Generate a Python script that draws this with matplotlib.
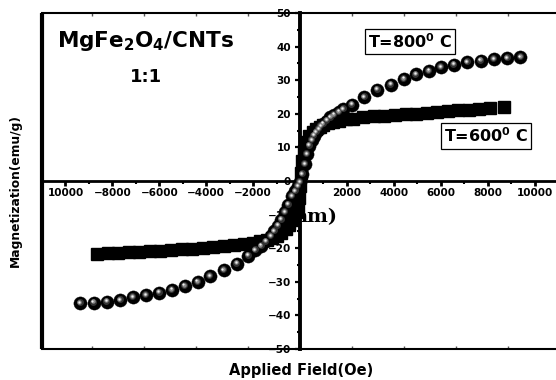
import matplotlib
matplotlib.use('Agg')
import matplotlib.pyplot as plt
from matplotlib.transforms import offset_copy
from matplotlib.ticker import MultipleLocator, FixedLocator

# ---------------- data ----------------
field_800 = [-9360, -8800, -8230, -7660, -7120, -6570, -6000, -5460, -4920, -4370,
             -3830, -3260, -2700, -2200, -1900, -1650, -1450, -1250, -1100, -950,
             -800, -650, -500, -350, -200, -100, 0, 100, 200, 300, 400, 500, 600,
             700, 800, 900, 1000, 1150, 1300, 1450, 1650, 1850, 2213, 2740, 3300,
             3870, 4440, 4940, 5500, 6000, 6570, 7140, 7700, 8270, 8840, 9400]
mag_800 = [-36.4, -36.2, -35.9, -35.4, -34.6, -33.9, -33.2, -32.4, -31.2, -30.0,
           -28.4, -26.6, -24.6, -22.2, -20.6, -19.3, -18.0, -16.5, -15.0, -13.3,
           -11.5, -9.3, -7.0, -4.6, -3.0, -1.5, -0.3, 2.0, 5.0, 8.0, 10.5, 12.2, 13.5,
           14.6, 15.5, 16.3, 17.0, 18.0, 18.9, 19.7, 20.6, 21.4, 22.7, 24.9, 27.2,
           28.7, 30.4, 31.7, 32.8, 33.8, 34.6, 35.3, 35.8, 36.3, 36.6, 36.9]

field_600 = [-8650, -8200, -7750, -7300, -6850, -6400, -5950, -5500, -5050, -4600,
             -4150, -3700, -3250, -2800, -2400, -2000, -1700, -1400, -1200, -1000,
             -800, -600, -450, -300, -150, -100, -50, 0, 50, 100, 150, 250, 400, 550,
             700, 850, 1000, 1200, 1400, 1650, 1950, 2250, 2700, 3150, 3600, 4050,
             4500, 4950, 5400, 5850, 6300, 6750, 7200, 7650, 8100, 8700]
mag_600 = [-21.6, -21.5, -21.3, -21.2, -21.0, -20.9, -20.7, -20.5, -20.3, -20.1,
           -19.9, -19.6, -19.4, -19.1, -18.8, -18.4, -18.0, -17.5, -17.1, -16.5,
           -15.6, -14.3, -13.0, -11.5, -9.3, -7.5, -5.0, -1.5, 2.5, 6.0, 9.0, 11.5, 13.3, 14.5,
           15.4, 16.1, 16.7, 17.2, 17.6, 18.0, 18.4, 18.6, 18.9, 19.2, 19.4, 19.6,
           19.8, 20.0, 20.3, 20.5, 20.7, 21.0, 21.2, 21.4, 21.6, 21.9]

x_ticks = [-10000, -8000, -6000, -4000, -2000, 2000, 4000, 6000, 8000, 10000]
x_tick_labels = ['10000', '\u22128000', '\u22126000', '\u22124000', '\u22122000',
                 '2000', '4000', '6000', '8000', '10000']
y_ticks = [-50, -40, -30, -20, -10, 0, 10, 20, 30, 40, 50]
y_tick_labels = ['\u221250', '\u221240', '\u221230', '\u221220', '\u221210', '0',
                 '10', '20', '30', '40', '50']

label_800 = 'T=800$^0$ C'
label_600 = 'T=600$^0$ C'
sample_title = 'MgFe$_2$O$_4$/CNTs'
sample_ratio = '1:1'

# ---------------- style ----------------
plt.rcParams['font.family'] = ['DejaVu Sans']
plt.rcParams['font.weight'] = 'bold'
plt.rcParams['mathtext.fontset'] = 'dejavusans'
plt.rcParams['mathtext.default'] = 'bf'

fig = plt.figure(figsize=(5.56, 3.80), dpi=100)
ax = fig.add_axes([42 / 556, 31 / 380, 516 / 556, 336 / 380])
ax.set_xlim(-11000, 11000)
ax.set_ylim(-50, 50)

ax.spines['left'].set_position(('data', 0))
ax.spines['bottom'].set_position(('data', 0))
ax.spines['right'].set_visible(False)
ax.spines['left'].set_linewidth(2.8)
ax.spines['bottom'].set_linewidth(2.0)
ax.spines['top'].set_linewidth(1.5)

# outer frame lines
ax.plot([0, 0], [0, 1], transform=ax.transAxes, color='black', lw=3.0,
        clip_on=False, zorder=3, solid_capstyle='butt')
ax.plot([0, 1], [0, 0], transform=ax.transAxes, color='black', lw=1.5,
        clip_on=False, zorder=3)

ax.xaxis.set_ticks_position('bottom')
ax.yaxis.set_ticks_position('left')
ax.xaxis.set_major_locator(FixedLocator(x_ticks))
ax.set_xticklabels(x_tick_labels)
ax.xaxis.set_minor_locator(MultipleLocator(1000))
ax.yaxis.set_major_locator(FixedLocator(y_ticks))
ax.set_yticklabels(y_tick_labels)
ax.yaxis.set_minor_locator(MultipleLocator(5))

ax.tick_params(axis='x', which='major', direction='out', length=3.8, width=2.0,
               pad=1.0, labelsize=7.5)
ax.tick_params(axis='x', which='minor', direction='out', length=2.2, width=1.5)
ax.tick_params(axis='y', which='major', direction='out', length=3.6, width=1.6,
               pad=3.0, labelsize=7.5)
ax.tick_params(axis='y', which='minor', direction='out', length=2.0, width=1.5)

# faint ticks on outer frame
for loc in ('top', 0.0):
    sec = ax.secondary_xaxis(loc, functions=(lambda v: v * 0.9, lambda v: v / 0.9))
    sec.xaxis.set_major_locator(MultipleLocator(2000))
    sec.tick_params(direction='in', length=2.0, width=1.0, colors='#555555',
                    labelbottom=False, labeltop=False)
    for s in sec.spines.values():
        s.set_visible(False)

# ---------------- data marks ----------------
ax.plot(field_600, mag_600, 's', ms=8, color='black', zorder=4)

ax.plot(field_800, mag_800, 'o', ms=9.5, mfc='black', mec='black', mew=0.3, zorder=5)
t1 = offset_copy(ax.transData, fig=fig, x=-0.5, y=0.7, units='points')
ax.plot(field_800, mag_800, 'o', ms=5.0, mfc='#333333', mec='none', transform=t1, zorder=6)
t2 = offset_copy(ax.transData, fig=fig, x=-0.7, y=0.9, units='points')
ax.plot(field_800, mag_800, 'o', ms=3.2, mfc='#8a8a8a', mec='none', transform=t2, zorder=7)
t3 = offset_copy(ax.transData, fig=fig, x=-0.8, y=1.0, units='points')
ax.plot(field_800, mag_800, 'o', ms=1.6, mfc='#f0f0f0', mec='none', transform=t3, zorder=7)

# ---------------- texts ----------------
ax.text(1580, -10.7, 'nm)', family='DejaVu Serif', weight='bold', fontsize=14,
        ha='right', va='center', zorder=1)

ax.text(-6590, 39.9, sample_title, fontsize=15.5, ha='center', va='baseline', zorder=8)
ax.text(-6570, 29.5, sample_ratio, fontsize=13, ha='center', va='baseline', zorder=8)

box = dict(boxstyle='square,pad=0.2', fc='white', ec='black', lw=0.9)
ax.text(4690, 41.4, label_800, fontsize=11.5, ha='center', va='center', bbox=box, zorder=8)
ax.text(7930, 13.4, label_600, fontsize=11.5, ha='center', va='center', bbox=box, zorder=8)

fig.text(15 / 556, 1 - 191 / 380, 'Magnetization(emu/g)', fontsize=8.8, rotation=90,
         ha='center', va='center')
fig.text(301 / 556, 1 - 370 / 380, 'Applied Field(Oe)', fontsize=10.5,
         ha='center', va='center')

fig.savefig('out.png', dpi=100)
